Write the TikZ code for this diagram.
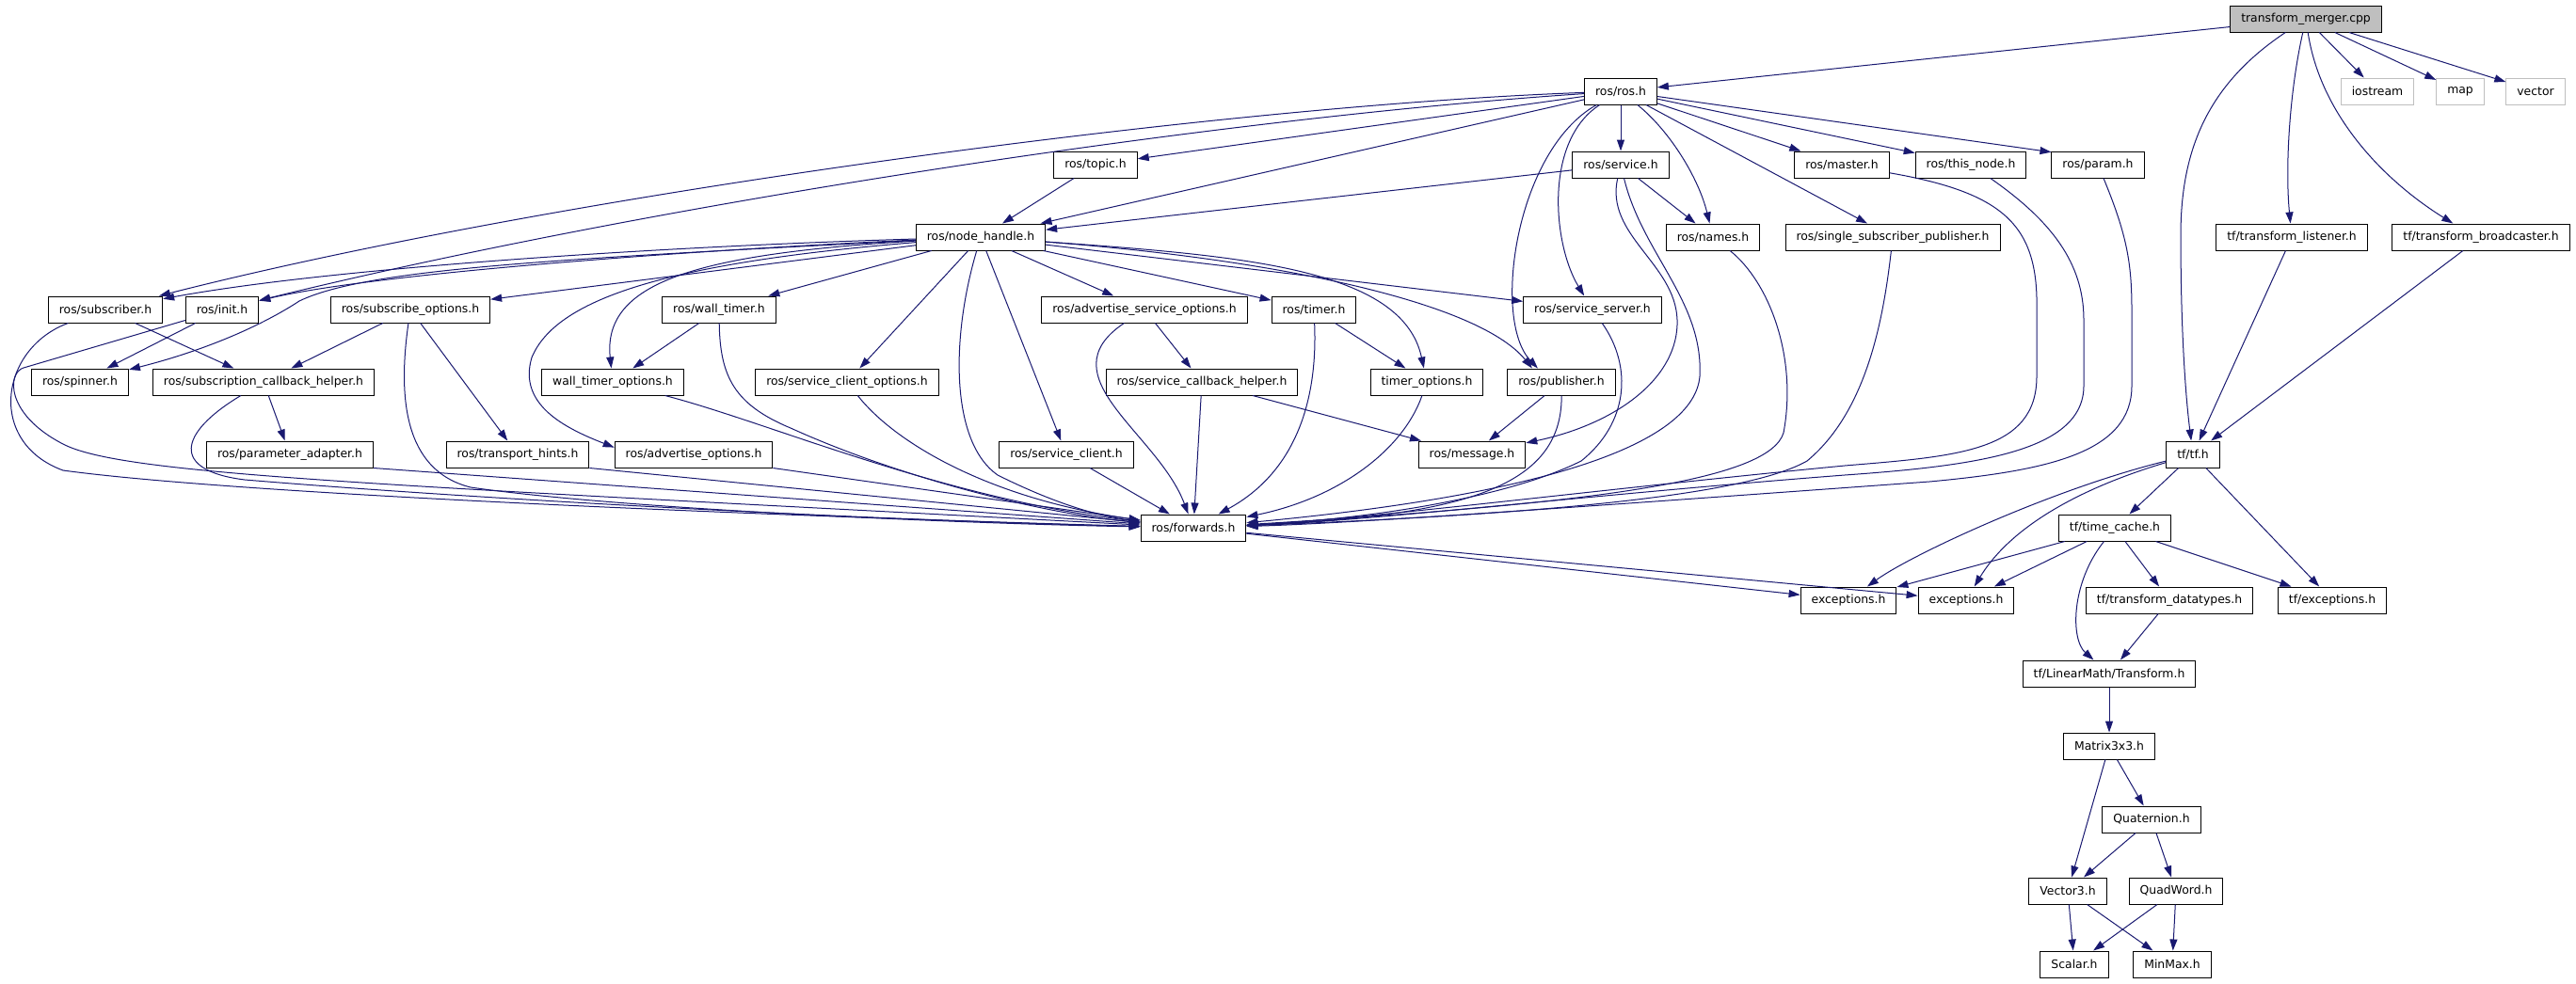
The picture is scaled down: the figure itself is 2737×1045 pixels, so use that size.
\documentclass[tikz,border=0pt]{standalone}
\usepackage{fontspec}
\newfontfamily\dejavu{DejaVu Sans}
\usetikzlibrary{arrows.meta}

\definecolor{depblue}{HTML}{191970}
\definecolor{rootgray}{HTML}{BFBFBF}

\tikzset{
  inc/.style={draw=black,fill=white,line width=1pt,minimum height=28pt,
    inner xsep=11.5pt,inner ysep=0pt,font={\dejavu\fontsize{12.4}{14}\selectfont}},
  root/.style={inc,fill=rootgray},
  sys/.style={inc,draw=rootgray},
  dep/.style={draw=depblue,line width=1pt,-{Triangle[length=12pt,width=8pt]}},
}

\begin{document}
\begin{tikzpicture}[x=1pt,y=-1pt]
\useasboundingbox (0,0) rectangle (2737,1045);

% files, one row after the other
\node[root] (tm) at (2450,20) {transform\_merger.cpp};

\node[inc] (ros) at (1722,97) {ros/ros.h};
\node[sys] (iostream) at (2526,97) {iostream};
\node[sys] (stdmap) at (2614,97) {map};
\node[sys] (stdvector) at (2694,97) {vector};

\node[inc] (topic) at (1164,175) {ros/topic.h};
\node[inc] (service) at (1722,175) {ros/service.h};
\node[inc] (master) at (1957,175) {ros/master.h};
\node[inc] (thisnode) at (2094,175) {ros/this\_node.h};
\node[inc] (param) at (2229,175) {ros/param.h};

\node[inc] (nodehandle) at (1042,252) {ros/node\_handle.h};
\node[inc] (names) at (1820,252) {ros/names.h};
\node[inc] (ssp) at (2011,252) {ros/single\_subscriber\_publisher.h};
\node[inc] (listener) at (2435,252) {tf/transform\_listener.h};
\node[inc] (broadcaster) at (2636,252) {tf/transform\_broadcaster.h};

\node[inc] (subscriber) at (112,329) {ros/subscriber.h};
\node[inc] (init) at (236,329) {ros/init.h};
\node[inc] (subopts) at (436,329) {ros/subscribe\_options.h};
\node[inc] (walltimer) at (764,329) {ros/wall\_timer.h};
\node[inc] (asopts) at (1216,329) {ros/advertise\_service\_options.h};
\node[inc] (timer) at (1396,329) {ros/timer.h};
\node[inc] (srvserver) at (1692,329) {ros/service\_server.h};

\node[inc] (spinner) at (85,406) {ros/spinner.h};
\node[inc] (sch) at (280,406) {ros/subscription\_callback\_helper.h};
\node[inc] (wtopts) at (651,406) {wall\_timer\_options.h};
\node[inc] (scopts) at (900,406) {ros/service\_client\_options.h};
\node[inc] (scbh) at (1277,406) {ros/service\_callback\_helper.h};
\node[inc] (timeropts) at (1516,406) {timer\_options.h};
\node[inc] (publisher) at (1659,406) {ros/publisher.h};

\node[inc] (padapter) at (308,483) {ros/parameter\_adapter.h};
\node[inc] (hints) at (550,483) {ros/transport\_hints.h};
\node[inc] (adopts) at (737,483) {ros/advertise\_options.h};
\node[inc] (srvclient) at (1133,483) {ros/service\_client.h};
\node[inc] (message) at (1564,483) {ros/message.h};
\node[inc] (tf) at (2330,483) {tf/tf.h};

\node[inc] (forwards) at (1268,561) {ros/forwards.h};
\node[inc] (timecache) at (2247,561) {tf/time\_cache.h};

\node[inc] (exca) at (1964,638) {exceptions.h};
\node[inc] (excb) at (2089,638) {exceptions.h};
\node[inc] (datatypes) at (2305,638) {tf/transform\_datatypes.h};
\node[inc] (tfexc) at (2478,638) {tf/exceptions.h};

\node[inc] (transform) at (2241,716) {tf/LinearMath/Transform.h};
\node[inc] (matrix) at (2241,793) {Matrix3x3.h};
\node[inc] (quat) at (2286,871) {Quaternion.h};
\node[inc] (vecthree) at (2197,947) {Vector3.h};
\node[inc] (quadword) at (2312,947) {QuadWord.h};
\node[inc] (scalar) at (2204,1025) {Scalar.h};
\node[inc] (minmax) at (2308,1025) {MinMax.h};

% transform_merger.cpp
\draw[dep] (tm) -- (ros);
\draw[dep] (tm) .. controls (2345,90) and (2317,160) .. (2317,250) .. controls (2317,350) and (2322,420) .. (tf);
\draw[dep] (tm) .. controls (2432,100) and (2428,180) .. (listener);
\draw[dep] (tm) .. controls (2465,120) and (2530,190) .. (broadcaster.154);
\draw[dep] (tm) -- (iostream);
\draw[dep] (tm) -- (stdmap);
\draw[dep] (tm) -- (stdvector);

% ros/ros.h
\draw[dep] (ros) .. controls (1300,112) and (600,205) .. (subscriber);
\draw[dep] (ros) .. controls (1300,125) and (700,215) .. (init);
\draw[dep] (ros) -- (topic);
\draw[dep] (ros) -- (nodehandle);
\draw[dep] (ros) -- (service);
\draw[dep] (ros) .. controls (1640,150) and (1650,260) .. (srvserver);
\draw[dep] (ros) .. controls (1610,160) and (1585,340) .. (publisher.150);
\draw[dep] (ros) .. controls (1775,140) and (1805,190) .. (names);
\draw[dep] (ros) -- (ssp);
\draw[dep] (ros) -- (master);
\draw[dep] (ros) -- (thisnode);
\draw[dep] (ros) -- (param.165);

\draw[dep] (topic) -- (nodehandle);
\draw[dep] (service) -- (nodehandle);
\draw[dep] (service) -- (names);
\draw[dep] (service) .. controls (1705,250) and (1780,280) .. (1782,340) .. controls (1784,400) and (1720,450) .. (message);
\draw[dep] (service) .. controls (1745,270) and (1810,320) .. (1806,400) .. controls (1800,470) and (1650,525) .. (forwards);

% ros/node_handle.h
\draw[dep] (nodehandle) .. controls (700,262) and (350,285) .. (subscriber);
\draw[dep] (nodehandle) .. controls (750,265) and (400,290) .. (init);
\draw[dep] (nodehandle) .. controls (600,275) and (390,285) .. (318,320) .. controls (280,345) and (220,372) .. (spinner);
\draw[dep] (nodehandle) -- (subopts);
\draw[dep] (nodehandle) -- (walltimer);
\draw[dep] (nodehandle) .. controls (740,270) and (640,300) .. (wtopts);
\draw[dep] (nodehandle) .. controls (700,280) and (590,320) .. (565,380) .. controls (550,430) and (600,455) .. (adopts.175);
\draw[dep] (nodehandle) -- (scopts);
\draw[dep] (nodehandle) .. controls (1010,360) and (1010,470) .. (1060,505) .. controls (1110,530) and (1160,548) .. (forwards);
\draw[dep] (nodehandle) -- (srvclient);
\draw[dep] (nodehandle) -- (asopts);
\draw[dep] (nodehandle) -- (timer);
\draw[dep] (nodehandle) .. controls (1320,272) and (1490,285) .. (timeropts);
\draw[dep] (nodehandle) .. controls (1350,275) and (1570,320) .. (publisher.155);
\draw[dep] (nodehandle) -- (srvserver);

% everything that ends in ros/forwards.h
\draw[dep] (subscriber) -- (sch);
\draw[dep] (subscriber) .. controls (0,370) and (-15,470) .. (67,500) .. controls (250,525) and (800,548) .. (forwards);
\draw[dep] (init) -- (spinner);
\draw[dep] (init) -- (25,391) .. controls (8,396) and (5,440) .. (67,472) .. controls (130,505) and (400,515) .. (forwards);
\draw[dep] (subopts) -- (sch);
\draw[dep] (subopts) -- (hints);
\draw[dep] (subopts) .. controls (423,420) and (428,500) .. (500,518) .. controls (650,540) and (1000,556) .. (forwards);
\draw[dep] (sch) -- (padapter);
\draw[dep] (sch) .. controls (190,460) and (180,500) .. (260,510) .. controls (500,530) and (900,552) .. (forwards);
\draw[dep] (padapter.south east) -- (forwards);
\draw[dep] (hints.south east) -- (forwards);
\draw[dep] (adopts.south east) -- (forwards);
\draw[dep] (walltimer) -- (wtopts);
\draw[dep] (wtopts) .. controls (820,450) and (1000,530) .. (forwards);
\draw[dep] (walltimer) .. controls (765,400) and (780,430) .. (840,455) .. controls (950,505) and (1100,545) .. (forwards);
\draw[dep] (scopts) .. controls (950,470) and (1050,530) .. (forwards);
\draw[dep] (srvclient) -- (forwards);
\draw[dep] (asopts) -- (scbh);
\draw[dep] (asopts) .. controls (1110,400) and (1230,460) .. (forwards);
\draw[dep] (scbh) -- (forwards);
\draw[dep] (scbh) -- (message);
\draw[dep] (timer) -- (timeropts);
\draw[dep] (timer) .. controls (1400,420) and (1380,500) .. (forwards);
\draw[dep] (timeropts) .. controls (1490,480) and (1420,530) .. (forwards);
\draw[dep] (publisher) -- (message);
\draw[dep] (publisher) .. controls (1660,520) and (1550,548) .. (forwards);
\draw[dep] (srvserver) .. controls (1735,390) and (1730,450) .. (1680,490) .. controls (1600,530) and (1450,552) .. (forwards);
\draw[dep] (names) .. controls (1880,300) and (1910,380) .. (1895,460) .. controls (1880,510) and (1700,535) .. (forwards);
\draw[dep] (ssp) .. controls (2000,350) and (1980,440) .. (1920,490) .. controls (1850,530) and (1600,548) .. (forwards);
\draw[dep] (master) .. controls (2130,205) and (2166,240) .. (2164,330) -- (2164,400) .. controls (2164,480) and (2080,485) .. (1960,495) .. controls (1700,520) and (1450,552) .. (forwards);
\draw[dep] (thisnode) .. controls (2180,235) and (2214,280) .. (2214,340) -- (2214,410) .. controls (2214,480) and (2100,495) .. (1960,505) .. controls (1700,525) and (1450,554) .. (forwards);
\draw[dep] (param) .. controls (2260,250) and (2265,280) .. (2265,330) -- (2265,410) .. controls (2265,480) and (2180,500) .. (2050,512) .. controls (1800,530) and (1450,556) .. (forwards);

\draw[dep] (forwards) -- (exca);
\draw[dep] (forwards) -- (excb);

% tf
\draw[dep] (listener) -- (tf);
\draw[dep] (broadcaster) -- (tf);
\draw[dep] (tf) .. controls (2180,520) and (2030,590) .. (exca);
\draw[dep] (tf) .. controls (2190,525) and (2130,570) .. (excb);
\draw[dep] (tf) -- (timecache);
\draw[dep] (tf) -- (tfexc);
\draw[dep] (timecache) -- (exca);
\draw[dep] (timecache) -- (excb);
\draw[dep] (timecache) .. controls (2200,620) and (2200,680) .. (transform);
\draw[dep] (timecache) -- (datatypes);
\draw[dep] (timecache) -- (tfexc);
\draw[dep] (datatypes) -- (transform);

% LinearMath
\draw[dep] (transform) -- (matrix);
\draw[dep] (matrix) -- (vecthree);
\draw[dep] (matrix) -- (quat);
\draw[dep] (quat) -- (vecthree);
\draw[dep] (quat) -- (quadword);
\draw[dep] (vecthree) -- (scalar);
\draw[dep] (vecthree) -- (minmax);
\draw[dep] (quadword) -- (scalar);
\draw[dep] (quadword) -- (minmax);
\end{tikzpicture}
\end{document}
